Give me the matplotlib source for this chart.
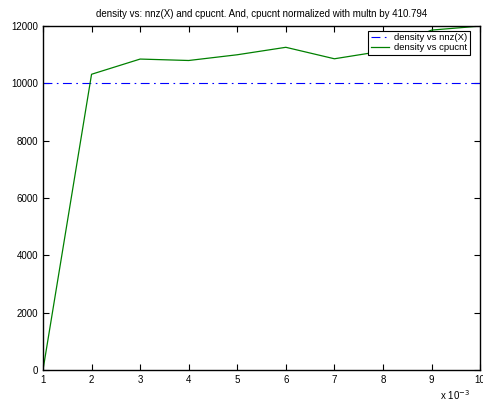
import matplotlib
matplotlib.use('Agg')
import matplotlib.pyplot as plt
from matplotlib.ticker import FuncFormatter

plt.rcParams['font.family'] = ['Liberation Sans', 'DejaVu Sans']

density = [0.001, 0.002, 0.003, 0.004, 0.005, 0.006, 0.007, 0.008, 0.009, 0.010]
nnz_x = [10000, 10000, 10000, 10000, 10000, 10000, 10000, 10000, 10000, 10000]
cpucnt = [0, 10310, 10840, 10790, 10990, 11250, 10850, 11120, 11850, 11990]

fig = plt.figure(figsize=(4.83, 4.03), dpi=100)
ax = fig.add_axes([0.089, 0.082, 0.905, 0.854])

ax.plot(density, nnz_x, color='#0000ff', linestyle=(0, (8, 4, 1.5, 4)), linewidth=0.8, label='density vs nnz(X)')
ax.plot(density, cpucnt, color='#008000', linestyle='-', linewidth=0.9, label='density vs cpucnt')

ax.set_xlim(0.001, 0.010)
ax.set_ylim(0, 12000)
ax.set_xticks(density)
ax.set_yticks([0, 2000, 4000, 6000, 8000, 10000, 12000])
ax.xaxis.set_major_formatter(FuncFormatter(lambda v, p: '%d' % round(v * 1000)))
ax.tick_params(direction='in', top=True, right=True, labelsize=7, length=4, width=0.8)
for s in ax.spines.values():
    s.set_linewidth(1.0)

ax.set_title('density vs: nnz(X) and cpucnt. And, cpucnt normalized with multn by 410.794', fontsize=7, pad=6)
fig.text(0.942, 0.008, 'x 10$^{-3}$', fontsize=7, ha='center')

leg = ax.legend(loc='upper right', bbox_to_anchor=(0.977, 0.985), fontsize=6.8, fancybox=False,
                edgecolor='black', framealpha=1, borderpad=0.25, handlelength=1.9,
                handletextpad=0.6, labelspacing=0.1, borderaxespad=0)
leg.get_frame().set_linewidth(0.8)

fig.savefig('out.png', dpi=100)
